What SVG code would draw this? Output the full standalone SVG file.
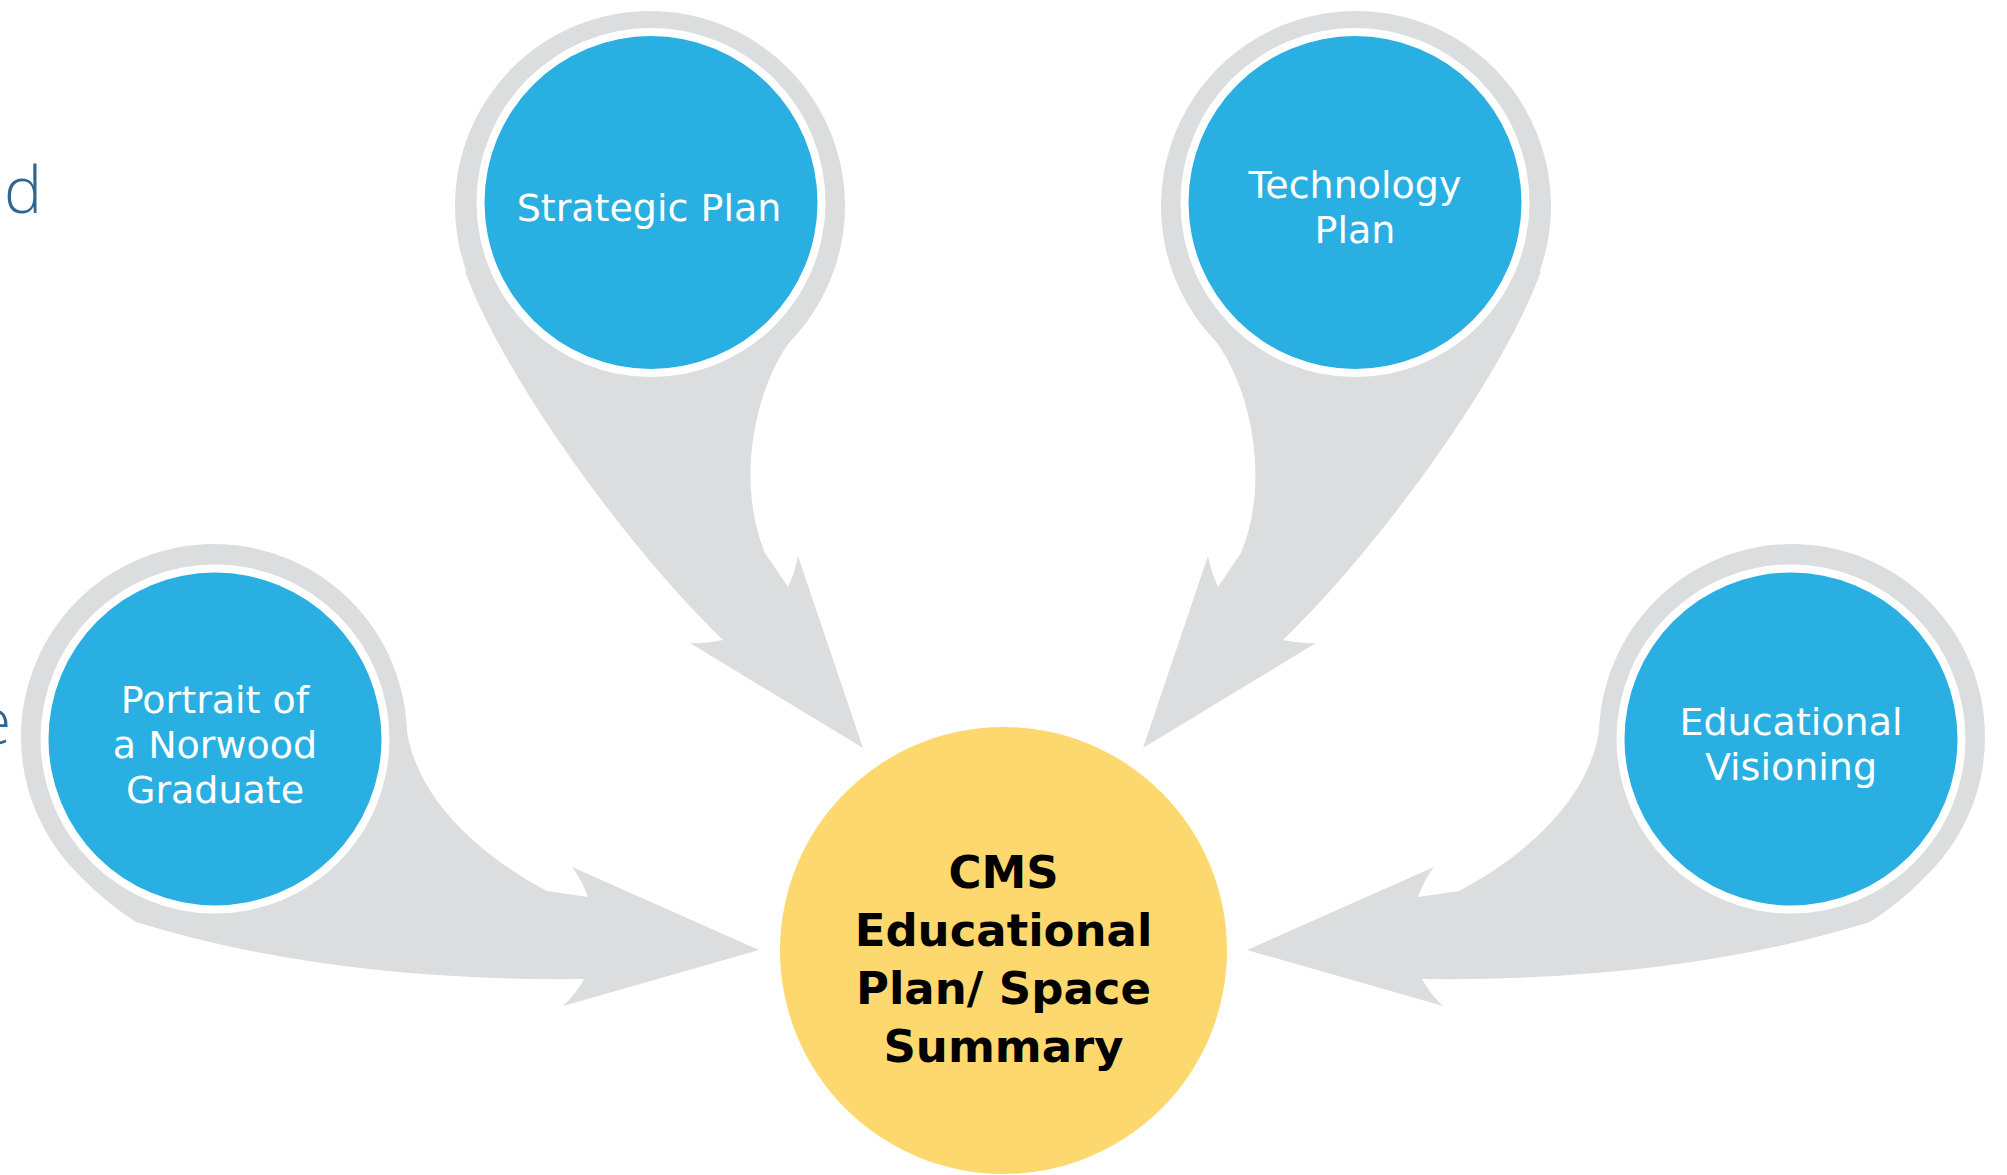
<svg xmlns="http://www.w3.org/2000/svg" width="2007" height="1175" viewBox="0 0 2007 1175">
  <style>
    .halo { fill: #dcdddf; }
    .ring { fill: #ffffff; }
    .blue { fill: #29afe1; }
    .arrow { fill: #dcdddf; }
    .center { fill: #fdd86e; }
    .lbl { font-family: "DejaVu Sans", "Liberation Sans", sans-serif; font-size: 38px; fill: #ffffff; text-anchor: middle; }
    .main { font-family: "DejaVu Sans", "Liberation Sans", sans-serif; font-size: 45px; font-weight: bold; fill: #000000; text-anchor: middle; }
    .frag { font-family: "Open Sans", "Liberation Sans", sans-serif; font-size: 64px; font-weight: 300; fill: #2f6690; }
  </style>
  <rect width="2007" height="1175" fill="#ffffff"/>

  <g id="fragments">
    <text class="frag" x="4" y="213">d</text>
    <text class="frag" x="-24" y="744">e</text>
  </g>

  <g id="connectors">
    <path id="arrow-strategic" class="arrow" d="M 465 271 C 500 370 620 540 723 640 Q 707 644 690 643 L 863 748 L 798 556 Q 795 572 788 587 L 765 553 C 735 480 755 385 794 336 Z"/>
    <path id="arrow-technology" class="arrow" d="M 1541 271 C 1506 370 1386 540 1283 640 Q 1299 644 1316 643 L 1143 748 L 1208 556 Q 1211 572 1218 587 L 1241 553 C 1271 480 1251 385 1212 336 Z"/>
    <path id="arrow-portrait" class="arrow" d="M 406 723 C 412 790 470 850 547 891 L 588 897 Q 582 880 572 867 L 759 950 L 563 1006 Q 576 994 584 979 Q 330 982 136 922 Q 105 902 80 876 Z"/>
    <path id="arrow-visioning" class="arrow" d="M 1600 723 C 1594 790 1536 850 1459 891 L 1418 897 Q 1424 880 1434 867 L 1247 950 L 1443 1006 Q 1430 994 1422 979 Q 1676 982 1870 922 Q 1901 902 1926 876 Z"/>
  </g>

  <g id="node-strategic">
    <circle class="halo" cx="650" cy="206" r="195"/>
    <circle class="ring" cx="651" cy="202.5" r="174.5"/>
    <circle class="blue" cx="651" cy="202.5" r="166.5"/>
    <text class="lbl" x="649" y="221">Strategic Plan</text>
  </g>

  <g id="node-technology">
    <circle class="halo" cx="1356" cy="206" r="195"/>
    <circle class="ring" cx="1355" cy="202.5" r="174.5"/>
    <circle class="blue" cx="1355" cy="202.5" r="166.5"/>
    <text class="lbl" x="1355" y="198">Technology</text>
    <text class="lbl" x="1355" y="243">Plan</text>
  </g>

  <g id="node-portrait">
    <circle class="halo" cx="214" cy="737" r="193"/>
    <circle class="ring" cx="215" cy="739" r="174.5"/>
    <circle class="blue" cx="215" cy="739" r="166.5"/>
    <text class="lbl" x="215" y="713">Portrait of</text>
    <text class="lbl" x="215" y="758">a Norwood</text>
    <text class="lbl" x="215" y="803">Graduate</text>
  </g>

  <g id="node-visioning">
    <circle class="halo" cx="1792" cy="737" r="193"/>
    <circle class="ring" cx="1791" cy="739" r="174.5"/>
    <circle class="blue" cx="1791" cy="739" r="166.5"/>
    <text class="lbl" x="1791" y="735">Educational</text>
    <text class="lbl" x="1791" y="780">Visioning</text>
  </g>

  <g id="node-cms">
    <circle class="center" cx="1003.5" cy="950.5" r="223.5"/>
    <text class="main" x="1003.5" y="888">CMS</text>
    <text class="main" x="1003.5" y="946">Educational</text>
    <text class="main" x="1003.5" y="1004">Plan/ Space</text>
    <text class="main" x="1003.5" y="1062">Summary</text>
  </g>
</svg>
